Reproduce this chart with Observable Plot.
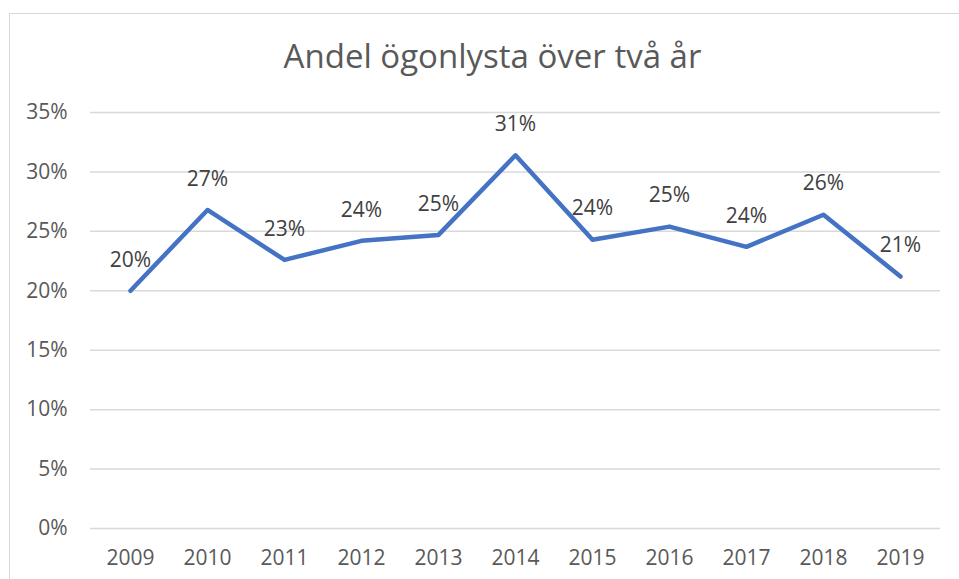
<!DOCTYPE html>
<html>
<head>
<meta charset="utf-8">
<script src="https://cdn.jsdelivr.net/npm/d3@7"></script>
<script src="https://cdn.jsdelivr.net/npm/@observablehq/plot@0.6"></script>
<style>
  html, body { margin: 0; padding: 0; background: #fff; }
  body { width: 959px; height: 579px; position: relative; overflow: hidden; font-family: "Open Sans", sans-serif; }
  #frame { position: absolute; left: 9px; top: 13px; width: 1000px; height: 700px; border-left: 1.5px solid #D9D9D9; border-top: 1.5px solid #D9D9D9; }
  #title { position: absolute; left: 13px; top: 39px; width: 959px; text-align: center; font-size: 33px; line-height: 34px; color: #595959; white-space: nowrap; }
  #chart { position: absolute; left: 0; top: 90px; }
</style>
</head>
<body>
<div id="frame"></div>
<div id="title">Andel ögonlysta över två år</div>
<div id="chart"></div>
<script>
const years = ["2009","2010","2011","2012","2013","2014","2015","2016","2017","2018","2019"];
const shares = [0.200, 0.268, 0.226, 0.242, 0.247, 0.314, 0.243, 0.254, 0.237, 0.264, 0.212];
const yTicks = [0, 0.05, 0.10, 0.15, 0.20, 0.25, 0.30, 0.35];

const data = years.map((y, i) => ({year: y, share: shares[i]}));
const pct = d3.format(".0%");

const plot = Plot.plot({
  width: 959,
  height: 489,
  marginLeft: 90,
  marginRight: 19,
  marginTop: 22,
  marginBottom: 51,
  style: { fontFamily: "Open Sans, sans-serif", fontSize: "21px", color: "#595959", background: "transparent" },
  x: { type: "point", domain: years, padding: 0.5, label: null },
  y: { domain: [0, 0.35], label: null },
  marks: [
    Plot.ruleY(yTicks, { stroke: "#D9D9D9", strokeWidth: 1.5 }),
    Plot.axisY({ ticks: yTicks, tickFormat: pct, tickSize: 0, tickPadding: 23, fill: "#595959", fontSize: 21, label: null }),
    Plot.axisX({ tickSize: 0, tickPadding: 22, fill: "#595959", fontSize: 21, label: null }),
    Plot.line(data, { x: "year", y: "share", stroke: "#4472C4", strokeWidth: 4.5, strokeLinejoin: "round", strokeLinecap: "round" }),
    Plot.text(data, { x: "year", y: "share", text: d => pct(d.share), dy: -31, fill: "#404040", fontSize: 21 })
  ]
});
document.getElementById("chart").appendChild(plot);
</script>
</body>
</html>
